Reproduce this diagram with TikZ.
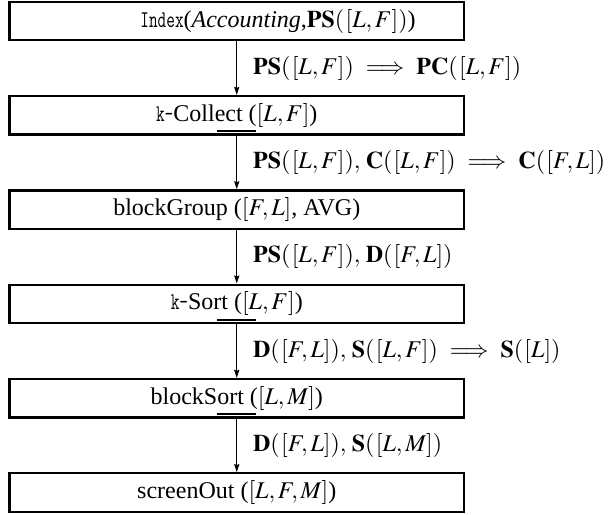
\documentclass[tikz,border=0pt]{standalone}
\usepackage{mathptmx}
\usepackage[no-math]{fontspec}
\setmainfont{Liberation Serif}
\usetikzlibrary{arrows.meta,calc}

% bracketed argument lists used throughout
\newcommand{\argl}[1]{(\mkern1mu[#1])}
% condensed typewriter for operator prefixes
\newcommand{\optt}[1]{\scalebox{0.7}[1]{\ttfamily #1}}
% implication between annotation parts
\newcommand{\implies}{\;\mkern1mu\Longrightarrow\;\mkern1mu}

\begin{document}
\begin{tikzpicture}[x=0.5pt,y=-0.5pt,
  opbox/.style={draw,line width=1.15pt,minimum width=227.25pt,minimum height=19.25pt,
    inner sep=0pt,font=\fontsize{12}{14}\selectfont},
  optext/.style={inner sep=0pt,font=\fontsize{12}{14}\selectfont},
  flow/.style={line width=0.5pt,-{Stealth[length=4pt,width=2.6pt,inset=0.5pt]}},
  flowlabel/.style={anchor=west,inner sep=0pt,font=\fontsize{12}{14}\selectfont},
  blockmark/.style={line width=1pt}
]
\useasboundingbox (0,0) rectangle (610,514);

% operator boxes
\node[opbox] (b1) at (236.75,21.0)  {};
\node[optext,anchor=west] (t1) at (140,21.0)
  {\optt{Index}(\textit{Accounting},$\mathbf{PS}\argl{L,F}$)};
\node[opbox] (b2) at (236.75,115.3) {\optt{k-}Collect ($[L,F]$)};
\node[opbox] (b3) at (236.75,209.6) {blockGroup ($[F,L]$, AVG)};
\node[opbox] (b4) at (236.75,303.9) {\optt{k-}Sort ($[L,F]$)};
\node[opbox] (b5) at (236.75,398.2) {blockSort ($[L,M]$)};
\node[opbox] (b6) at (236.75,492.5) {screenOut ($[L,F,M]$)};

% blocking marks near the lower edge of some boxes
\foreach \b in {b2,b4,b5}{
  \draw[blockmark] ($(\b.south)+(-19.5,-4.7)$) -- ($(\b.south)+(19.5,-4.7)$);
}

% data flow between operators
\draw[flow] (b1.south) -- (b2.north);
\draw[flow] (b2.south) -- (b3.north);
\draw[flow] (b3.south) -- (b4.north);
\draw[flow] (b4.south) -- (b5.north);
\draw[flow] (b5.south) -- (b6.north);

% flow annotations
\node[flowlabel] (l1) at ($(b1.south)!0.5!(b2.north)+(16,0)$)
  {$\mathbf{PS}\argl{L,F}\implies\mathbf{PC}\argl{L,F}$};
\node[flowlabel] (l2) at ($(b2.south)!0.5!(b3.north)+(16,0)$)
  {$\mathbf{PS}\argl{L,F},\,\mathbf{C}\argl{L,F}\implies\mathbf{C}\argl{F,L}$};
\node[flowlabel] (l3) at ($(b3.south)!0.5!(b4.north)+(16,0)$)
  {$\mathbf{PS}\argl{L,F},\,\mathbf{D}\argl{F,L}$};
\node[flowlabel] (l4) at ($(b4.south)!0.5!(b5.north)+(16,0)$)
  {$\mathbf{D}\argl{F,L},\,\mathbf{S}\argl{L,F}\implies\mathbf{S}\argl{L}$};
\node[flowlabel] (l5) at ($(b5.south)!0.5!(b6.north)+(16,0)$)
  {$\mathbf{D}\argl{F,L},\,\mathbf{S}\argl{L,M}$};
\end{tikzpicture}
\end{document}
